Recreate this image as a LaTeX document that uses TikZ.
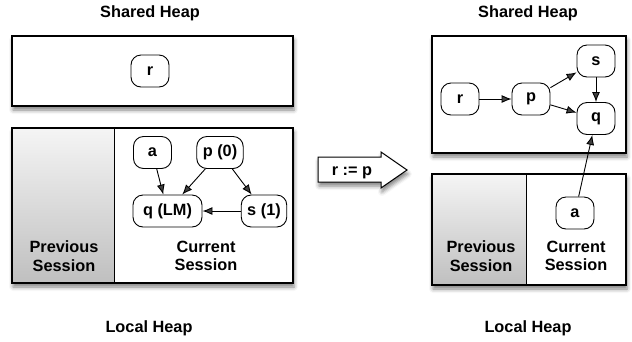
\documentclass[tikz,border=0pt]{standalone}
\usepackage{fontspec}
\setmainfont{Liberation Sans}
\usetikzlibrary{arrows.meta,shadows.blur}

\begin{document}
\begin{tikzpicture}[x=1pt, y=-1pt, font=\bfseries\fontsize{16.3}{18.7}\selectfont,
		heap/.style={draw, line width=1.3pt, fill=white, blur shadow={shadow xshift=1pt, shadow yshift=-4pt, shadow blur radius=4pt, shadow opacity=50}},
		obj/.style={draw, line width=0.9pt, fill=white, rounded corners=10pt, minimum width=38pt, minimum height=32pt, inner xsep=6pt},
		ref/.style={line width=0.9pt, -{Latex[length=10pt,width=8pt]}},
		caption/.style={anchor=base},
		session/.style={align=center},
		old/.style={top color=gray!8, bottom color=gray!50}
		]
		\useasboundingbox (0,0) rectangle (632,341);
		% before
		\draw[heap] (12,36) rectangle (293,106);
		\draw[heap] (12,128) rectangle (293,283);
		\shade[old] (12,128) rectangle (114,283);
		\draw[line width=1.3pt] (12,128) rectangle (293,283);
		\draw[line width=1pt] (114,128) -- (114,283);
		\node[caption] (sharedL) at (150,17.5) {Shared Heap};
		\node[caption] (localL) at (149,332) {Local Heap};
		\node[session] (prevL) at (64,256) {Previous\\Session};
		\node[session] (currL) at (206,256) {Current\\Session};
		\node[obj] (r1) at (150,71) {r};
		\node[obj] (a1) at (152.5,152.5) {a};
		\node[obj] (p1) at (220,152.5) {p (0)};
		\node[obj, minimum width=69pt] (q1) at (167.5,211) {q (LM)};
		\node[obj] (s1) at (264,211) {s (1)};
		\draw[ref] (a1) -- (q1);
		\draw[ref] (p1) -- (q1);
		\draw[ref] (p1) -- (s1);
		\draw[ref] (s1) -- (q1);
		% assignment
		\draw[heap, line width=1pt] (318,157) -- (381,157) -- (381,152) -- (407,170) -- (381,188) -- (381,182) -- (318,182) -- cycle;
		\node[caption] (assign) at (352,175) {r := p};
		% after
		\draw[heap] (432,36) rectangle (626,153);
		\draw[heap] (432,174) rectangle (626,285);
		\shade[old] (432,174) rectangle (526,285);
		\draw[line width=1.3pt] (432,174) rectangle (626,285);
		\draw[line width=1pt] (526,174) -- (526,285);
		\node[caption] (sharedR) at (528,17.5) {Shared Heap};
		\node[caption] (localR) at (528,332) {Local Heap};
		\node[session] (prevR) at (481,256) {Previous\\Session};
		\node[session] (currR) at (576,256) {Current\\Session};
		\node[obj] (r2) at (460,99) {r};
		\node[obj] (p2) at (531,99) {p};
		\node[obj] (s2) at (596,61) {s};
		\node[obj] (q2) at (596,118.5) {q};
		\node[obj] (a2) at (575,213) {a};
		\draw[ref] (r2) -- (p2);
		\draw[ref] (p2) -- (s2);
		\draw[ref] (p2) -- (q2);
		\draw[ref] (s2) -- (q2);
		\draw[ref] (a2) -- (q2);
	\end{tikzpicture}
\end{document}
